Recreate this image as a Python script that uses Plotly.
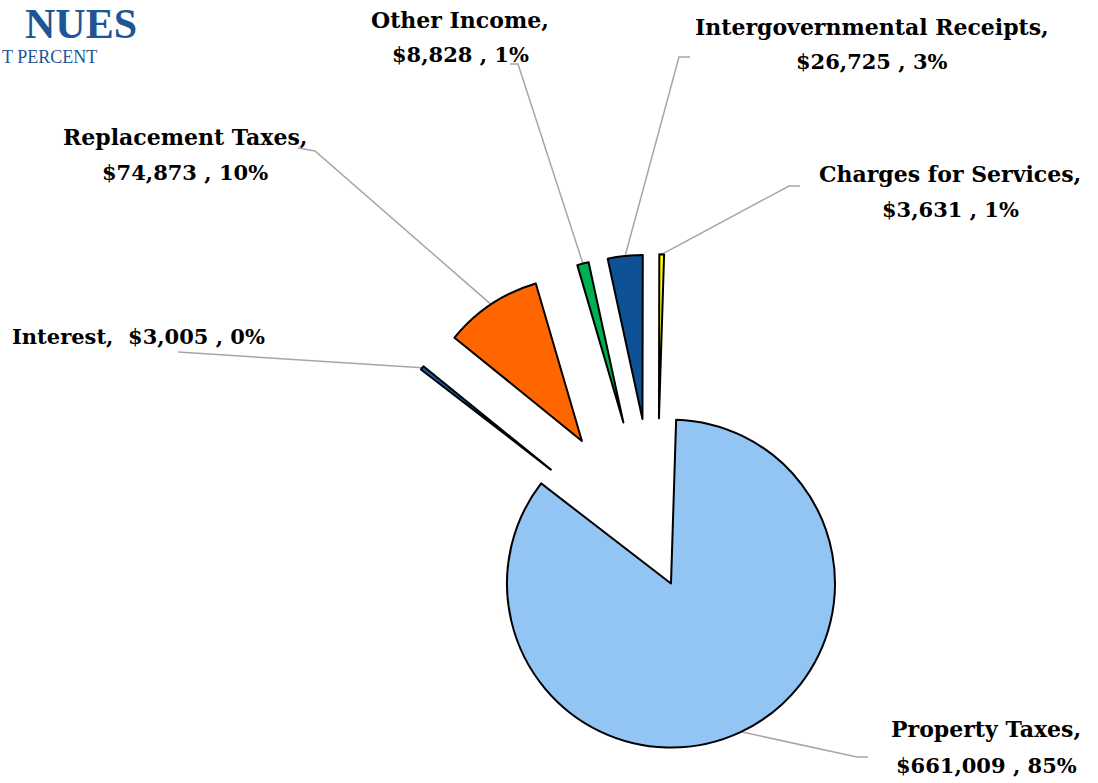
import math
import plotly.graph_objects as go

W, H = 1098, 783

# ---- data ----
categories = ["Property Taxes", "Interest", "Replacement Taxes", "Other Income",
              "Intergovernmental Receipts", "Charges for Services"]
amounts = [661009, 3005, 74873, 8828, 26725, 3631]
pct_labels = [85, 0, 10, 1, 3, 1]
title_text = "NUES"          # visible (cropped) part of the title
subtitle_text = "T PERCENT"  # visible (cropped) part of the subtitle

# ---- style ----
colors = ["#92C4F4", "#1B5EAA", "#FF6600", "#00B050", "#0E5295", "#FFFF00"]
pulls = [0.204, 0.823, 0.823, 0.823, 0.823, 0.823]
rotation = 1.8
R = 164.0
CX, CY = 656.7, 553.3
font_family = "DejaVu Serif"
fs_name = 22
fs_val = 21
lead_color = "#A6A6A6"

total = sum(amounts)
fig = go.Figure()

# geometry derived from data
start = rotation
apex = []
arcmid = []
for v, p in zip(amounts, pulls):
    span = v / total * 360.0
    b = math.radians(start + span / 2.0)
    ax = CX + p * R * math.sin(b)
    ay = CY - p * R * math.cos(b)
    apex.append((ax, ay))
    arcmid.append((ax + R * math.sin(b), ay - R * math.cos(b)))
    start += span

for i, (ax, ay) in enumerate(apex):
    cols = ["rgba(0,0,0,0)"] * len(amounts)
    cols[i] = colors[i]
    lw = [0] * len(amounts)
    lw[i] = 2
    fig.add_trace(go.Pie(
        labels=categories, values=amounts, sort=False, direction="clockwise",
        rotation=rotation, textinfo="none", hoverinfo="skip",
        marker=dict(colors=cols, line=dict(color="black", width=lw)),
        domain=dict(x=[(ax - R) / W, (ax + R) / W], y=[1 - (ay + R) / H, 1 - (ay - R) / H]),
        showlegend=False,
    ))

# leader lines: label-side points (layout) -> slice arc midpoint (computed)
label_pts = {
    0: [(868, 757), (857, 757)],
    1: [(178, 352)],
    2: [(298, 148), (315, 151)],
    3: [(510, 64), (518, 64)],
    4: [(690, 57), (679, 57)],
    5: [(800, 186), (789, 186)],
}
for i, pts in label_pts.items():
    xs = [p[0] for p in pts] + [arcmid[i][0]]
    ys = [p[1] for p in pts] + [arcmid[i][1]]
    fig.add_trace(go.Scatter(x=xs, y=ys, mode="lines", hoverinfo="skip",
                             line=dict(color=lead_color, width=1.5), showlegend=False))

# labels
label_pos = {
    0: (986, 729, 765),
    2: (185, 137, 172),
    3: (460, 20, 55),
    4: (872, 27, 62),
    5: (950, 174, 209),
}
ann = []
for i, (x, y1, y2) in label_pos.items():
    ann.append(dict(x=x / W, y=1 - y1 / H, xref="paper", yref="paper", showarrow=False,
                    text=f"<b>{categories[i]},</b>", xanchor="center", yanchor="middle",
                    font=dict(family=font_family, size=fs_name, color="black")))
    ann.append(dict(x=x / W, y=1 - y2 / H, xref="paper", yref="paper", showarrow=False,
                    text=f"<b>${amounts[i]:,} , {pct_labels[i]}%</b>", xanchor="center", yanchor="middle",
                    font=dict(family=font_family, size=fs_val, color="black")))
ann.append(dict(x=10 / W, y=1 - 336 / H, xref="paper", yref="paper", showarrow=False,
                text=f"<b>{categories[1]},&nbsp; ${amounts[1]:,} , {pct_labels[1]}%</b>",
                xanchor="left", yanchor="middle",
                font=dict(family=font_family, size=fs_val, color="black")))
# cropped title
ann.append(dict(x=138 / W, y=1, xref="paper", yref="paper", showarrow=False,
                text=f"<b>{title_text}</b>", xanchor="right", yanchor="top", borderpad=0,
                font=dict(family="Liberation Serif", size=42, color="#1E5597")))
ann.append(dict(x=0, y=1 - 57 / H, xref="paper", yref="paper", showarrow=False,
                text=subtitle_text, xanchor="left", yanchor="middle",
                font=dict(family="Liberation Serif", size=18, color="#1E5597")))

fig.update_layout(
    width=W, height=H, margin=dict(l=0, r=0, t=0, b=0),
    paper_bgcolor="white", plot_bgcolor="rgba(0,0,0,0)",
    xaxis=dict(range=[0, W], visible=False, domain=[0, 1], fixedrange=True),
    yaxis=dict(range=[H, 0], visible=False, domain=[0, 1], fixedrange=True),
    annotations=ann, showlegend=False,
)
fig.write_html("out.html")
